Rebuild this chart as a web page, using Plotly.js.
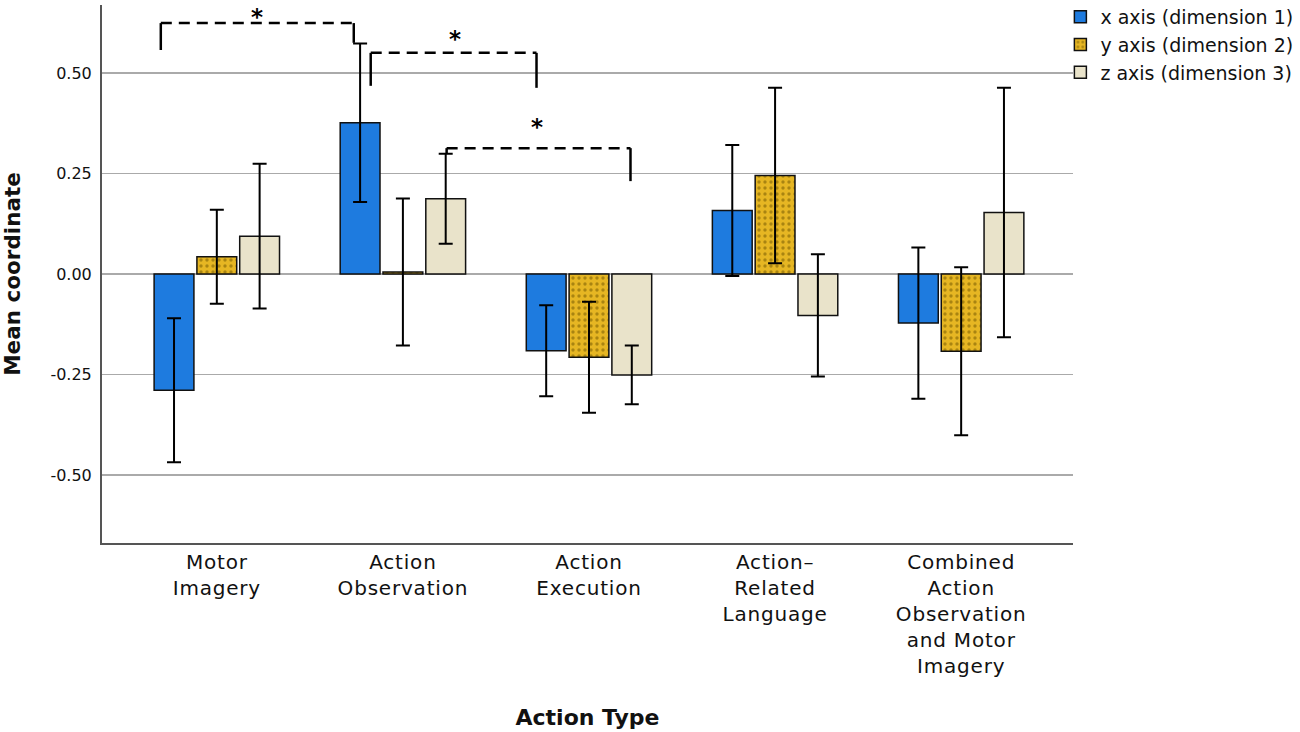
<!DOCTYPE html>
<html>
<head>
<meta charset="utf-8">
<script src="https://cdn.plot.ly/plotly-3.0.1.min.js"></script>
<style>
html,body{margin:0;padding:0;background:#fff}
#chart{width:1300px;height:732px}
#chart .xtick text{letter-spacing:0.8px}
</style>
</head>
<body>
<div id="chart"></div>
<script>
// ---- data ----
const categories = ["Motor<br>Imagery", "Action<br>Observation", "Action<br>Execution", "Action–<br>Related<br>Language", "Combined<br>Action<br>Observation<br>and Motor<br>Imagery"];
const seriesNames = ["x axis (dimension 1)", "y axis (dimension 2)", "z axis (dimension 3)"];
const xMeans = [-0.289, 0.376, -0.191, 0.158, -0.122];
const xErr   = [0.179, 0.197, 0.113, 0.163, 0.188];
const yMeans = [0.043, 0.005, -0.207, 0.245, -0.192];
const yErr   = [0.117, 0.183, 0.138, 0.218, 0.209];
const zMeans = [0.094, 0.187, -0.251, -0.103, 0.153];
const zErr   = [0.180, 0.112, 0.073, 0.152, 0.310];
const yTickVals = [-0.5, -0.25, 0, 0.25, 0.5];
const yTickText = ["-0.50", "-0.25", "0.00", "0.25", "0.50"];
// significance brackets: [xLeft, xRight, yTop, yLeftEnd, yRightEnd, xStar, yStar, starAnchor]
const brackets = [
  [-0.301, 0.736, 0.624, 0.557, 0.575, 0.215, 0.668, "top"],
  [0.827, 1.718, 0.550, 0.468, 0.463, 1.278, 0.585, "middle"],
  [1.235, 2.223, 0.313, 0.299, 0.231, 1.718, 0.366, "middle"]
];

const idx = categories.map((c, i) => i);
const colors = ["#1E7BDF", "#E6B623", "#E9E3CA"];
const font = "DejaVu Sans, sans-serif";

function mk(name, vals, errs, color, pattern) {
  const t = {
    type: "bar", name: name, x: idx, y: vals,
    marker: {color: color, line: {color: "#111", width: 1.5}},
    error_y: {type: "data", array: errs, visible: true, color: "#000", thickness: 2, width: 7}
  };
  if (pattern) t.marker.pattern = {shape: ".", fgcolor: "#6b5200", bgcolor: color, size: 6, solidity: 0.25, fillmode: "overlay"};
  return t;
}
const data = [
  mk(seriesNames[0], xMeans, xErr, colors[0], false),
  mk(seriesNames[1], yMeans, yErr, colors[1], true),
  mk(seriesNames[2], zMeans, zErr, colors[2], false)
];

const shapes = [];
const annotations = [];
brackets.forEach(b => {
  const [xl, xr, yt, yl, yr, xs, ys, anc] = b;
  shapes.push({type: "line", xref: "x", yref: "y", x0: xl, x1: xr, y0: yt, y1: yt, line: {color: "#000", width: 2.5, dash: "11px,7px"}});
  shapes.push({type: "line", xref: "x", yref: "y", x0: xl, x1: xl, y0: yt, y1: yl, line: {color: "#000", width: 2.5}});
  shapes.push({type: "line", xref: "x", yref: "y", x0: xr, x1: xr, y0: yt, y1: yr, line: {color: "#000", width: 2.5}});
  annotations.push({x: xs, y: ys, xref: "x", yref: "y", yanchor: anc, yshift: anc === "top" ? 3 : 0, text: "<b>*</b>", showarrow: false, font: {family: font, size: 23, color: "#000"}});
});

const layout = {
  width: 1300, height: 732,
  margin: {l: 102, r: 227, t: 5, b: 189, autoexpand: false},
  paper_bgcolor: "#fff", plot_bgcolor: "#fff",
  barmode: "group", bargap: 0.31, bargroupgap: 0.07,
  showlegend: true,
  legend: {x: 0.987, y: 1.013, xanchor: "left", yanchor: "top", font: {family: font, size: 19, color: "#111"}, itemwidth: 30, tracegroupgap: 0, bgcolor: "rgba(0,0,0,0)"},
  xaxis: {
    range: [-0.617, 4.601], tickmode: "array", tickvals: idx, ticktext: categories,
    showgrid: false, zeroline: false, showline: true, linecolor: "#555", linewidth: 2,
    ticks: "", tickfont: {family: font, size: 20, color: "#111"},
    title: {text: "<b>Action Type</b>", font: {family: font, size: 22, color: "#111"}, standoff: 33}
  },
  yaxis: {
    range: [-0.669, 0.669], tickmode: "array", tickvals: yTickVals, ticktext: yTickText,
    showgrid: true, gridcolor: "#aaa", gridwidth: 1.5, zeroline: true, zerolinecolor: "#aaa", zerolinewidth: 1.5,
    showline: true, linecolor: "#555", linewidth: 2, ticks: "",
    tickfont: {family: font, size: 16, color: "#111"}, ticklabelstandoff: 5,
    title: {text: "<b>Mean coordinate</b>", font: {family: font, size: 21.5, color: "#111"}, standoff: 34}
  },
  shapes: shapes,
  annotations: annotations
};
Plotly.newPlot("chart", data, layout, {displayModeBar: false, staticPlot: true});
</script>
</body>
</html>
